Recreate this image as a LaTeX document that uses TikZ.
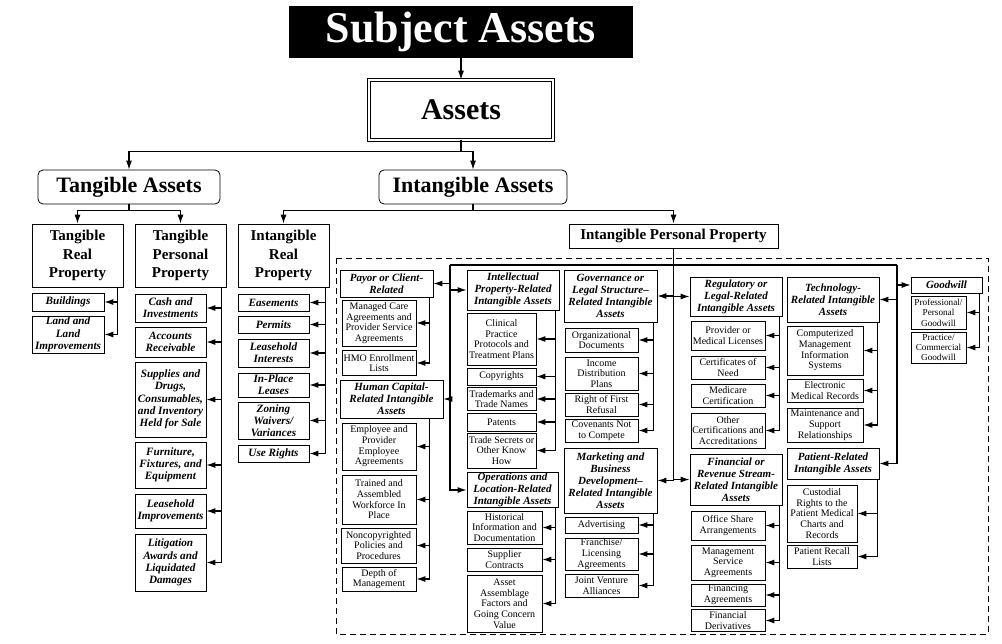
\documentclass[tikz,border=0pt]{standalone}
\usepackage{fontspec}
\setmainfont{Liberation Serif}
\usetikzlibrary{arrows.meta}
\tikzset{
  base/.style={draw, line width=0.8pt, inner sep=0.5pt, align=center},
  sz/.style 2 args={minimum width=#1pt, minimum height=#2pt},
  titlebox/.style={fill=black, inner sep=0pt, text=white, font=\fontsize{44}{48}\selectfont\bfseries},
  topbox/.style={base, double, double distance=2.5pt, line width=0.8pt, font=\fontsize{30}{32}\selectfont\bfseries},
  groupbox/.style={base, rounded corners=5pt, font=\fontsize{22}{24}\selectfont\bfseries},
  classbox/.style={base, font=\fontsize{15}{18.7}\selectfont\bfseries},
  tanbox/.style={base, font=\fontsize{11.2}{12.3}\selectfont\bfseries\itshape},
  catbox/.style={base, font=\fontsize{11}{12}\selectfont\bfseries\itshape},
  itembox/.style={base, font=\fontsize{10}{10.7}\selectfont},
  smallitem/.style={base, font=\fontsize{9.2}{10.4}\selectfont},
  arr/.style={-{Latex[length=9pt,width=6pt]}, line width=1.1pt}
}
\begin{document}
\begin{tikzpicture}[x=1pt, y=-1pt]
\useasboundingbox (0,0) rectangle (1002,643);
% frame round the intangible personal property
\draw[line width=1pt, dash pattern=on 6pt off 4pt] (336,258) rectangle (988,634);

% top levels
\node[titlebox, sz={344}{52}] (subj) at (461,32) {Subject Assets};
\node[topbox, sz={184}{60}] (assets) at (461,110) {Assets};
\node[groupbox, sz={182}{34}] (ta) at (129,187) {Tangible Assets};
\node[groupbox, sz={188}{34}] (ia) at (473,187) {Intangible Assets};
\node[classbox, sz={91}{63}] (trp) at (77.5,255.5) {Tangible\\Real\\Property};
\node[classbox, sz={91}{63}] (tpp) at (180.5,255.5) {Tangible\\Personal\\Property};
\node[classbox, sz={91}{63}] (irp) at (283.5,255.5) {Intangible\\Real\\Property};
\node[classbox, sz={209}{24}] (ipp) at (673.5,236) {Intangible Personal Property};

% tangible and real property
\node[tanbox, sz={72}{18}] (bld) at (68,302) {Buildings};
\node[tanbox, sz={72}{37}] (land) at (68,334.5) {Land and\\Land\\Improvements};
\node[tanbox, sz={71}{28}] (cash) at (170.5,308) {Cash and\\Investments};
\node[tanbox, sz={71}{30}] (ar) at (170.5,342) {Accounts\\Receivable};
\node[tanbox, sz={71}{75}] (supp) at (170.5,399.5) {Supplies and\\Drugs,\\Consumables,\\and Inventory\\Held for Sale};
\node[tanbox, sz={71}{46}] (furn) at (170.5,465) {Furniture,\\Fixtures, and\\Equipment};
\node[tanbox, sz={71}{34}] (lhi) at (170.5,511) {Leasehold\\Improvements};
\node[tanbox, sz={71}{57}] (lit) at (170.5,562.5) {Litigation\\Awards and\\Liquidated\\Damages};
\node[tanbox, sz={71}{17}] (eas) at (273.5,302.5) {Easements};
\node[tanbox, sz={71}{17}] (perm) at (273.5,324.5) {Permits};
\node[tanbox, sz={71}{28}] (lint) at (273.5,353) {Leasehold\\Interests};
\node[tanbox, sz={71}{24}] (ipl) at (273.5,385) {In-Place\\Leases};
\node[tanbox, sz={71}{37}] (zon) at (273.5,420.5) {Zoning\\Waivers/\\Variances};
\node[tanbox, sz={71}{17}] (urights) at (273.5,453.5) {Use Rights};

% payor and human capital
\node[catbox, sz={93}{27}] (payor) at (386.5,283.5) {Payor or Client-\\Related};
\node[itembox, sz={74}{46}] (mca) at (379,323) {Managed Care\\Agreements and\\Provider Service\\Agreements};
\node[itembox, sz={74}{25}] (hmo) at (379,363) {HMO Enrollment\\Lists};
\node[catbox, sz={103}{38}] (hc) at (391.5,399) {Human Capital-\\Related Intangible\\Assets};
\node[itembox, sz={74}{47}] (epa) at (379,446.5) {Employee and\\Provider\\Employee\\Agreements};
\node[itembox, sz={74}{49}] (taw) at (379,499.5) {Trained and\\Assembled\\Workforce In\\Place};
\node[itembox, sz={75}{35}] (ncp) at (378.5,545.5) {Noncopyrighted\\Policies and\\Procedures};
\node[itembox, sz={74}{24}] (dom) at (379,579) {Depth of\\Management};

% intellectual property and operations
\node[catbox, sz={92}{40}] (ip) at (513,290) {Intellectual\\Property-Related\\Intangible Assets};
\node[itembox, sz={69}{52}] (cpp) at (501.5,339) {Clinical\\Practice\\Protocols and\\Treatment Plans};
\node[itembox, sz={69}{17}] (copy) at (501.5,376.5) {Copyrights};
\node[itembox, sz={69}{23}] (tm) at (501.5,399) {Trademarks and\\Trade Names};
\node[itembox, sz={69}{18}] (pat) at (501.5,422) {Patents};
\node[itembox, sz={69}{35}] (ts) at (501.5,450.5) {Trade Secrets or\\Other Know\\How};
\node[catbox, sz={91}{34}] (ops) at (512.5,490) {Operations and\\Location-Related\\Intangible Assets};
\node[itembox, sz={75}{33}] (hid) at (504.5,527.5) {Historical\\Information and\\Documentation};
\node[itembox, sz={75}{23}] (supc) at (504.5,559.5) {Supplier\\Contracts};
\node[itembox, sz={75}{57}] (aag) at (504.5,603.5) {Asset\\Assemblage\\Factors and\\Going Concern\\Value};

% governance and marketing
\node[catbox, sz={93}{52}] (gov) at (610.5,296) {Governance or\\Legal Structure--\\Related Intangible\\Assets};
\node[itembox, sz={73}{24}] (orgd) at (601.5,340) {Organizational\\Documents};
\node[itembox, sz={73}{33}] (idp) at (601.5,373.5) {Income\\Distribution\\Plans};
\node[itembox, sz={73}{23}] (rfr) at (601.5,404.5) {Right of First\\Refusal};
\node[itembox, sz={73}{23}] (cnc) at (601.5,430.5) {Covenants Not\\to Compete};
\node[catbox, sz={93}{65}] (mkt) at (610.5,480.5) {Marketing and\\Business\\Development--\\Related Intangible\\Assets};
\node[itembox, sz={73}{16}] (adv) at (601.5,525) {Advertising};
\node[itembox, sz={73}{32}] (fla) at (601.5,554) {Franchise/\\Licensing\\Agreements};
\node[itembox, sz={73}{23}] (jva) at (601.5,585.5) {Joint Venture\\Alliances};

% regulatory and financial
\node[catbox, sz={92}{39}] (reg) at (736,296.5) {Regulatory or\\Legal-Related\\Intangible Assets};
\node[itembox, sz={74}{29}] (pml) at (728,335.5) {Provider or\\Medical Licenses};
\node[itembox, sz={74}{23}] (con) at (728,367.5) {Certificates of\\Need};
\node[itembox, sz={74}{23}] (mcr) at (728,395.5) {Medicare\\Certification};
\node[itembox, sz={74}{35}] (oca) at (728,430.5) {Other\\Certifications and\\Accreditations};
\node[catbox, sz={92}{51}] (fin) at (736,479.5) {Financial or\\Revenue Stream-\\Related Intangible\\Assets};
\node[itembox, sz={74}{29}] (osa) at (728,525.5) {Office Share\\Arrangements};
\node[itembox, sz={74}{35}] (msa) at (728,562.5) {Management\\Service\\Agreements};
\node[itembox, sz={74}{22}] (fag) at (728,595) {Financing\\Agreements};
\node[itembox, sz={74}{22}] (fder) at (728,620.5) {Financial\\Derivatives};

% technology and patient
\node[catbox, sz={92}{45}] (tech) at (833,299.5) {Technology-\\Related Intangible\\Assets};
\node[itembox, sz={76}{49}] (cmis) at (825,350.5) {Computerized\\Management\\Information\\Systems};
\node[itembox, sz={76}{23}] (emr) at (825,390.5) {Electronic\\Medical Records};
\node[itembox, sz={76}{34}] (msr) at (825,425) {Maintenance and\\Support\\Relationships};
\node[catbox, sz={92}{31}] (patr) at (833,463.5) {Patient-Related\\Intangible Assets};
\node[itembox, sz={70}{57}] (crp) at (822,513.5) {Custodial\\Rights to the\\Patient Medical\\Charts and\\Records};
\node[itembox, sz={70}{23}] (prl) at (822,556.5) {Patient Recall\\Lists};

% goodwill
\node[catbox, sz={71}{16}] (gw) at (946.5,285) {Goodwill};
\node[smallitem, sz={55}{33}] (ppg) at (938.5,312.5) {Professional/\\Personal\\Goodwill};
\node[smallitem, sz={55}{31}] (pcg) at (938.5,347.5) {Practice/\\Commercial\\Goodwill};

% connectors of the upper levels
\draw[arr] (subj) -- (assets);
\draw[arr] (assets.south) -- ++(0,11) -| (ta.north);
\draw[arr] (assets.south) -- ++(0,11) -| (ia.north);
\draw[arr] (ta.south) -- ++(0,6) -| (trp.north);
\draw[arr] (ta.south) -- ++(0,6) -| (tpp.north);
\draw[arr] (ia.south) -- ++(0,6) -| (irp.north);
\draw[arr] (ia.south) -- ++(0,6) -| (ipp.north);

% lists
\foreach \c in {bld,land} \draw[arr] ([xshift=-6pt]trp.south east) |- (\c);
\foreach \c in {cash,ar,supp,furn,lhi,lit} \draw[arr] ([xshift=-5pt]tpp.south east) |- (\c);
\foreach \c in {eas,perm,lint,ipl,zon,urights} \draw[arr] ([xshift=-4pt]irp.south east) |- (\c);
\foreach \c in {mca,hmo} \draw[arr] ([xshift=-4pt]payor.south east) |- (\c);
\foreach \c in {epa,taw,ncp,dom} \draw[arr] ([xshift=-14pt]hc.south east) |- (\c);
\foreach \c in {cpp,copy,tm,pat,ts} \draw[arr] ([xshift=-4pt]ip.south east) |- (\c);
\foreach \c in {hid,supc,aag} \draw[arr] ([xshift=-3pt]ops.south east) |- (\c);
\foreach \c in {orgd,idp,rfr,cnc} \draw[arr] ([xshift=-4pt]gov.south east) |- (\c);
\foreach \c in {adv,fla,jva} \draw[arr] ([xshift=-4pt]mkt.south east) |- (\c);
\foreach \c in {pml,con,mcr,oca} \draw[arr] ([xshift=-3pt]reg.south east) |- (\c);
\foreach \c in {osa,msa,fag,fder} \draw[arr] ([xshift=-3pt]fin.south east) |- (\c);
\foreach \c in {cmis,emr,msr} \draw[arr] ([xshift=-2pt]tech.south east) |- (\c);
\foreach \c in {crp,prl} \draw[arr] ([xshift=-2pt]patr.south east) |- (\c);
\foreach \c in {ppg,pcg} \draw[arr] ([xshift=-3pt]gw.south east) |- (\c);

% intangible personal property branches
\coordinate (jl) at (450,265);
\coordinate (jr) at (897,265);
\draw[line width=1.1pt] (jl) -- (jr);
\foreach \c in {gov,reg,mkt,fin} \draw[arr] (ipp.south) |- (\c);
\foreach \c in {payor,ip,hc,ops} \draw[arr] (jl) |- (\c);
\foreach \c in {gw,tech,patr} \draw[arr] (jr) |- (\c);
\end{tikzpicture}
\end{document}
